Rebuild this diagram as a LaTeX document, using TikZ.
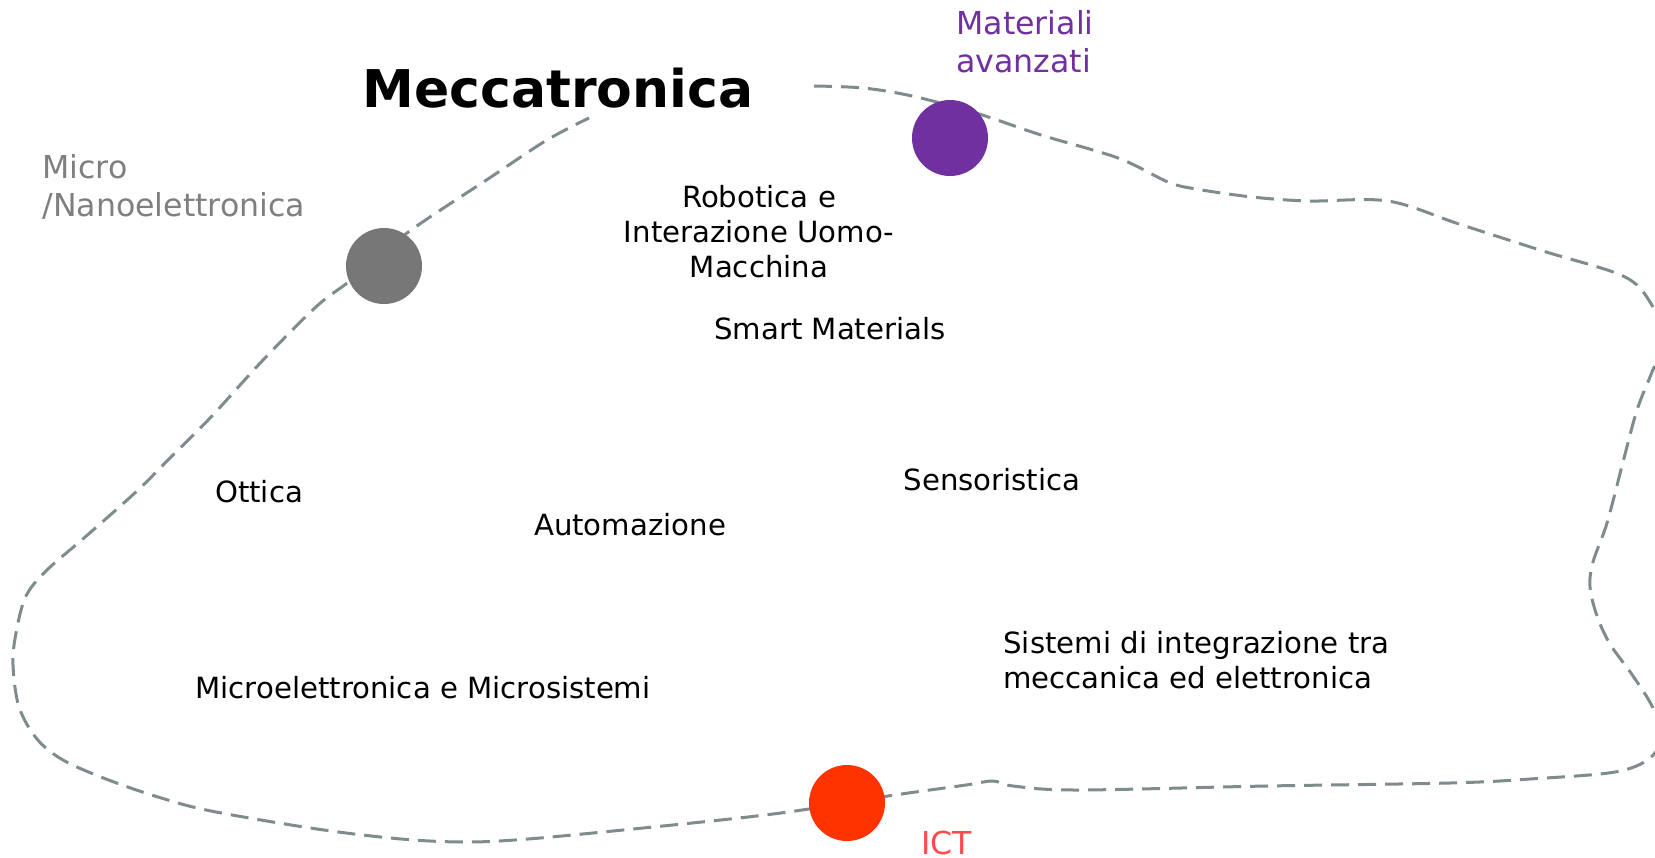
\documentclass[tikz,border=0pt]{standalone}
\usepackage{fontspec}
\setmainfont{DejaVu Sans}
\definecolor{lineGray}{HTML}{7F8C8D}
\definecolor{textGray}{HTML}{7F7F7F}
\definecolor{dotGray}{HTML}{777777}
\definecolor{matPurple}{HTML}{7030A0}
\definecolor{ictRed}{HTML}{FF3300}
\definecolor{ictText}{HTML}{FF4B4B}
\tikzset{
    lbl/.style={font=\fontsize{14.6}{17.5}\selectfont, inner sep=0pt},
    tag/.style={font=\fontsize{15.8}{19}\selectfont, inner sep=0pt, align=left, anchor=west},
    bubble/.style={circle, minimum size=38pt, inner sep=0pt, draw=none},
    border/.style={draw=lineGray, line width=1.5pt, dash pattern=on 9pt off 4.5pt}
}

\begin{document}
\begin{tikzpicture}[x=0.5pt, y=-0.5pt]
        \useasboundingbox (0,0) rectangle (1655,857);
        \clip (0,0) rectangle (1655,857);

        % Dashed border of the field
        \draw[border] plot[smooth, tension=0.55] coordinates {
            (814,86) (863,88) (912,96) (976,113) (1041,135) (1118,158)
            (1168,182) (1196,189) (1252,197) (1309,201) (1388,201)
            (1459,224) (1543,251) (1623,276) (1650,302) (1664,340)
            (1652,372) (1637,410) (1623,462) (1607,523) (1593,562)
            (1590,587) (1597,616) (1610,644) (1633,676) (1652,706)
            (1662,735) (1650,758) (1615,772) (1530,779) (1450,783)
            (1267,786) (1077,790) (1013,786) (993,781) (966,785)
            (888,796) (802,810) (739,818) (633,829) (528,839)
            (466,842) (401,839) (317,829) (211,811) (158,797)
            (106,779) (63,760) (37,739) (19,707) (13,665) (16,633)
            (26,596) (47,570) (84,538) (137,491) (169,459) (211,417)
            (264,359) (317,306) (351,280) (407,233) (491,177)
            (547,140) (589,118)
        };

        % Bubbles on the border
        \node[bubble, fill=dotGray] (microdot) at (384,266) {};
        \node[bubble, fill=matPurple] (matdot) at (950,138) {};
        \node[bubble, fill=ictRed] (ictdot) at (847,803) {};

        % Title
        \node[font=\bfseries\fontsize{26}{31}\selectfont, inner sep=0pt] (title) at (558,88) {Meccatronica};

        % Labels of the bubbles
        \node[tag, text=textGray] (microlbl) at (42,187) {Micro\\/Nanoelettronica};
        \node[tag, text=matPurple] (matlbl) at (956,42) {Materiali\\avanzati};
        \node[tag, text=ictText] (ictlbl) at (921,843) {ICT};

        % Topics inside
        \node[lbl, align=center] (robot) at (759,232) {Robotica e\\Interazione Uomo-\\Macchina};
        \node[lbl] (smart) at (830,329) {Smart Materials};
        \node[lbl] (ottica) at (259,492) {Ottica};
        \node[lbl] (autom) at (630,525) {Automazione};
        \node[lbl] (sensor) at (992,480) {Sensoristica};
        \node[lbl] (microel) at (423,688) {Microelettronica e Microsistemi};
        \node[lbl, align=left, anchor=west] (sistemi) at (1003,660) {Sistemi di integrazione tra\\meccanica ed elettronica};
    \end{tikzpicture}
\end{document}
